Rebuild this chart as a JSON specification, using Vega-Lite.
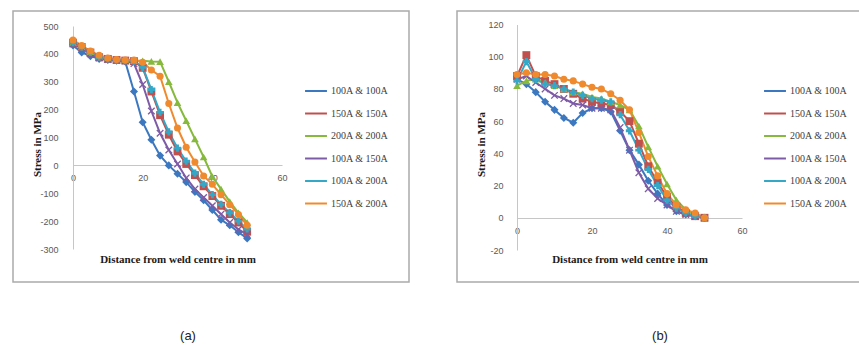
{
  "$schema": "https://vega.github.io/schema/vega-lite/v6.json",
  "padding": {"left": 12, "top": 10, "right": 0, "bottom": 0},
  "background": "white",
  "spacing": 46,
  "config": {
    "view": {"stroke": "#ababab", "strokeWidth": 1.5},
    "font": "Liberation Serif",
    "axis": {"grid": false, "ticks": false, "domainColor": "#c6c6c6", "domainWidth": 1, "labelColor": "#595959", "labelFontSize": 9, "labelFont": "Liberation Sans", "titleFont": "Liberation Serif", "titleFontSize": 11, "titleFontWeight": "bold", "titleColor": "#1a1a1a", "labelFlush": false, "labelExpr": "replace(datum.label, '−', '-')"},
    "legend": {"orient": "none", "title": null, "symbolType": "stroke", "symbolSize": 480, "symbolStrokeWidth": 2, "labelFont": "Liberation Serif", "labelFontSize": 10, "labelColor": "#404040", "rowPadding": 5.5, "padding": 0, "labelOffset": 3}
  },
  "data": {"values": [
    {"p":"a","s":"100A & 100A","x":0,"y":430},{"p":"a","s":"100A & 100A","x":2.5,"y":405},{"p":"a","s":"100A & 100A","x":5,"y":392},{"p":"a","s":"100A & 100A","x":7.5,"y":382},{"p":"a","s":"100A & 100A","x":10,"y":378},{"p":"a","s":"100A & 100A","x":12.5,"y":375},{"p":"a","s":"100A & 100A","x":15,"y":372},{"p":"a","s":"100A & 100A","x":17.5,"y":265},{"p":"a","s":"100A & 100A","x":20,"y":155},{"p":"a","s":"100A & 100A","x":22.5,"y":92},{"p":"a","s":"100A & 100A","x":25,"y":35},{"p":"a","s":"100A & 100A","x":27.5,"y":0},{"p":"a","s":"100A & 100A","x":30,"y":-30},{"p":"a","s":"100A & 100A","x":32.5,"y":-60},{"p":"a","s":"100A & 100A","x":35,"y":-95},{"p":"a","s":"100A & 100A","x":37.5,"y":-125},{"p":"a","s":"100A & 100A","x":40,"y":-160},{"p":"a","s":"100A & 100A","x":42.5,"y":-195},{"p":"a","s":"100A & 100A","x":45,"y":-215},{"p":"a","s":"100A & 100A","x":47.5,"y":-240},{"p":"a","s":"100A & 100A","x":50,"y":-262},
    {"p":"a","s":"150A & 150A","x":0,"y":440},{"p":"a","s":"150A & 150A","x":2.5,"y":425},{"p":"a","s":"150A & 150A","x":5,"y":405},{"p":"a","s":"150A & 150A","x":7.5,"y":388},{"p":"a","s":"150A & 150A","x":10,"y":382},{"p":"a","s":"150A & 150A","x":12.5,"y":378},{"p":"a","s":"150A & 150A","x":15,"y":376},{"p":"a","s":"150A & 150A","x":17.5,"y":374},{"p":"a","s":"150A & 150A","x":20,"y":350},{"p":"a","s":"150A & 150A","x":22.5,"y":265},{"p":"a","s":"150A & 150A","x":25,"y":180},{"p":"a","s":"150A & 150A","x":27.5,"y":110},{"p":"a","s":"150A & 150A","x":30,"y":50},{"p":"a","s":"150A & 150A","x":32.5,"y":5},{"p":"a","s":"150A & 150A","x":35,"y":-35},{"p":"a","s":"150A & 150A","x":37.5,"y":-75},{"p":"a","s":"150A & 150A","x":40,"y":-110},{"p":"a","s":"150A & 150A","x":42.5,"y":-145},{"p":"a","s":"150A & 150A","x":45,"y":-175},{"p":"a","s":"150A & 150A","x":47.5,"y":-205},{"p":"a","s":"150A & 150A","x":50,"y":-238},
    {"p":"a","s":"200A & 200A","x":0,"y":440},{"p":"a","s":"200A & 200A","x":2.5,"y":425},{"p":"a","s":"200A & 200A","x":5,"y":408},{"p":"a","s":"200A & 200A","x":7.5,"y":392},{"p":"a","s":"200A & 200A","x":10,"y":385},{"p":"a","s":"200A & 200A","x":12.5,"y":380},{"p":"a","s":"200A & 200A","x":15,"y":378},{"p":"a","s":"200A & 200A","x":17.5,"y":376},{"p":"a","s":"200A & 200A","x":20,"y":375},{"p":"a","s":"200A & 200A","x":22.5,"y":373},{"p":"a","s":"200A & 200A","x":25,"y":372},{"p":"a","s":"200A & 200A","x":27.5,"y":300},{"p":"a","s":"200A & 200A","x":30,"y":225},{"p":"a","s":"200A & 200A","x":32.5,"y":160},{"p":"a","s":"200A & 200A","x":35,"y":95},{"p":"a","s":"200A & 200A","x":37.5,"y":30},{"p":"a","s":"200A & 200A","x":40,"y":-40},{"p":"a","s":"200A & 200A","x":42.5,"y":-85},{"p":"a","s":"200A & 200A","x":45,"y":-130},{"p":"a","s":"200A & 200A","x":47.5,"y":-170},{"p":"a","s":"200A & 200A","x":50,"y":-205},
    {"p":"a","s":"100A & 150A","x":0,"y":435},{"p":"a","s":"100A & 150A","x":2.5,"y":420},{"p":"a","s":"100A & 150A","x":5,"y":400},{"p":"a","s":"100A & 150A","x":7.5,"y":385},{"p":"a","s":"100A & 150A","x":10,"y":380},{"p":"a","s":"100A & 150A","x":12.5,"y":377},{"p":"a","s":"100A & 150A","x":15,"y":375},{"p":"a","s":"100A & 150A","x":17.5,"y":365},{"p":"a","s":"100A & 150A","x":20,"y":290},{"p":"a","s":"100A & 150A","x":22.5,"y":195},{"p":"a","s":"100A & 150A","x":25,"y":115},{"p":"a","s":"100A & 150A","x":27.5,"y":55},{"p":"a","s":"100A & 150A","x":30,"y":5},{"p":"a","s":"100A & 150A","x":32.5,"y":-45},{"p":"a","s":"100A & 150A","x":35,"y":-85},{"p":"a","s":"100A & 150A","x":37.5,"y":-115},{"p":"a","s":"100A & 150A","x":40,"y":-145},{"p":"a","s":"100A & 150A","x":42.5,"y":-175},{"p":"a","s":"100A & 150A","x":45,"y":-205},{"p":"a","s":"100A & 150A","x":47.5,"y":-230},{"p":"a","s":"100A & 150A","x":50,"y":-248},
    {"p":"a","s":"100A & 200A","x":0,"y":440},{"p":"a","s":"100A & 200A","x":2.5,"y":425},{"p":"a","s":"100A & 200A","x":5,"y":405},{"p":"a","s":"100A & 200A","x":7.5,"y":388},{"p":"a","s":"100A & 200A","x":10,"y":382},{"p":"a","s":"100A & 200A","x":12.5,"y":378},{"p":"a","s":"100A & 200A","x":15,"y":376},{"p":"a","s":"100A & 200A","x":17.5,"y":374},{"p":"a","s":"100A & 200A","x":20,"y":352},{"p":"a","s":"100A & 200A","x":22.5,"y":272},{"p":"a","s":"100A & 200A","x":25,"y":190},{"p":"a","s":"100A & 200A","x":27.5,"y":120},{"p":"a","s":"100A & 200A","x":30,"y":62},{"p":"a","s":"100A & 200A","x":32.5,"y":15},{"p":"a","s":"100A & 200A","x":35,"y":-28},{"p":"a","s":"100A & 200A","x":37.5,"y":-68},{"p":"a","s":"100A & 200A","x":40,"y":-105},{"p":"a","s":"100A & 200A","x":42.5,"y":-140},{"p":"a","s":"100A & 200A","x":45,"y":-170},{"p":"a","s":"100A & 200A","x":47.5,"y":-200},{"p":"a","s":"100A & 200A","x":50,"y":-228},
    {"p":"a","s":"150A & 200A","x":0,"y":450},{"p":"a","s":"150A & 200A","x":2.5,"y":430},{"p":"a","s":"150A & 200A","x":5,"y":410},{"p":"a","s":"150A & 200A","x":7.5,"y":395},{"p":"a","s":"150A & 200A","x":10,"y":385},{"p":"a","s":"150A & 200A","x":12.5,"y":380},{"p":"a","s":"150A & 200A","x":15,"y":378},{"p":"a","s":"150A & 200A","x":17.5,"y":378},{"p":"a","s":"150A & 200A","x":20,"y":370},{"p":"a","s":"150A & 200A","x":22.5,"y":342},{"p":"a","s":"150A & 200A","x":25,"y":320},{"p":"a","s":"150A & 200A","x":27.5,"y":222},{"p":"a","s":"150A & 200A","x":30,"y":134},{"p":"a","s":"150A & 200A","x":32.5,"y":65},{"p":"a","s":"150A & 200A","x":35,"y":12},{"p":"a","s":"150A & 200A","x":37.5,"y":-38},{"p":"a","s":"150A & 200A","x":40,"y":-68},{"p":"a","s":"150A & 200A","x":42.5,"y":-105},{"p":"a","s":"150A & 200A","x":45,"y":-141},{"p":"a","s":"150A & 200A","x":47.5,"y":-176},{"p":"a","s":"150A & 200A","x":50,"y":-215},
    {"p":"b","s":"100A & 100A","x":0,"y":86},{"p":"b","s":"100A & 100A","x":2.5,"y":83},{"p":"b","s":"100A & 100A","x":5,"y":78},{"p":"b","s":"100A & 100A","x":7.5,"y":72},{"p":"b","s":"100A & 100A","x":10,"y":67},{"p":"b","s":"100A & 100A","x":12.5,"y":62},{"p":"b","s":"100A & 100A","x":15,"y":59},{"p":"b","s":"100A & 100A","x":17.5,"y":65},{"p":"b","s":"100A & 100A","x":20,"y":68},{"p":"b","s":"100A & 100A","x":22.5,"y":68},{"p":"b","s":"100A & 100A","x":25,"y":66},{"p":"b","s":"100A & 100A","x":27.5,"y":54},{"p":"b","s":"100A & 100A","x":30,"y":42},{"p":"b","s":"100A & 100A","x":32.5,"y":33},{"p":"b","s":"100A & 100A","x":35,"y":23},{"p":"b","s":"100A & 100A","x":37.5,"y":15},{"p":"b","s":"100A & 100A","x":40,"y":8},{"p":"b","s":"100A & 100A","x":42.5,"y":4},{"p":"b","s":"100A & 100A","x":45,"y":2},{"p":"b","s":"100A & 100A","x":47.5,"y":1},{"p":"b","s":"100A & 100A","x":50,"y":0},
    {"p":"b","s":"150A & 150A","x":0,"y":88},{"p":"b","s":"150A & 150A","x":2.5,"y":101},{"p":"b","s":"150A & 150A","x":5,"y":88},{"p":"b","s":"150A & 150A","x":7.5,"y":85},{"p":"b","s":"150A & 150A","x":10,"y":83},{"p":"b","s":"150A & 150A","x":12.5,"y":80},{"p":"b","s":"150A & 150A","x":15,"y":77},{"p":"b","s":"150A & 150A","x":17.5,"y":74},{"p":"b","s":"150A & 150A","x":20,"y":72},{"p":"b","s":"150A & 150A","x":22.5,"y":71},{"p":"b","s":"150A & 150A","x":25,"y":70},{"p":"b","s":"150A & 150A","x":27.5,"y":66},{"p":"b","s":"150A & 150A","x":30,"y":60},{"p":"b","s":"150A & 150A","x":32.5,"y":46},{"p":"b","s":"150A & 150A","x":35,"y":32},{"p":"b","s":"150A & 150A","x":37.5,"y":22},{"p":"b","s":"150A & 150A","x":40,"y":13},{"p":"b","s":"150A & 150A","x":42.5,"y":7},{"p":"b","s":"150A & 150A","x":45,"y":3},{"p":"b","s":"150A & 150A","x":47.5,"y":1},{"p":"b","s":"150A & 150A","x":50,"y":0},
    {"p":"b","s":"200A & 200A","x":0,"y":82},{"p":"b","s":"200A & 200A","x":2.5,"y":85},{"p":"b","s":"200A & 200A","x":5,"y":86},{"p":"b","s":"200A & 200A","x":7.5,"y":84},{"p":"b","s":"200A & 200A","x":10,"y":82},{"p":"b","s":"200A & 200A","x":12.5,"y":80},{"p":"b","s":"200A & 200A","x":15,"y":78},{"p":"b","s":"200A & 200A","x":17.5,"y":77},{"p":"b","s":"200A & 200A","x":20,"y":75},{"p":"b","s":"200A & 200A","x":22.5,"y":74},{"p":"b","s":"200A & 200A","x":25,"y":72},{"p":"b","s":"200A & 200A","x":27.5,"y":70},{"p":"b","s":"200A & 200A","x":30,"y":67},{"p":"b","s":"200A & 200A","x":32.5,"y":57},{"p":"b","s":"200A & 200A","x":35,"y":44},{"p":"b","s":"200A & 200A","x":37.5,"y":32},{"p":"b","s":"200A & 200A","x":40,"y":21},{"p":"b","s":"200A & 200A","x":42.5,"y":11},{"p":"b","s":"200A & 200A","x":45,"y":5},{"p":"b","s":"200A & 200A","x":47.5,"y":2},{"p":"b","s":"200A & 200A","x":50,"y":0},
    {"p":"b","s":"100A & 150A","x":0,"y":86},{"p":"b","s":"100A & 150A","x":2.5,"y":88},{"p":"b","s":"100A & 150A","x":5,"y":84},{"p":"b","s":"100A & 150A","x":7.5,"y":80},{"p":"b","s":"100A & 150A","x":10,"y":76},{"p":"b","s":"100A & 150A","x":12.5,"y":74},{"p":"b","s":"100A & 150A","x":15,"y":71},{"p":"b","s":"100A & 150A","x":17.5,"y":70},{"p":"b","s":"100A & 150A","x":20,"y":68},{"p":"b","s":"100A & 150A","x":22.5,"y":68},{"p":"b","s":"100A & 150A","x":25,"y":67},{"p":"b","s":"100A & 150A","x":27.5,"y":56},{"p":"b","s":"100A & 150A","x":30,"y":42},{"p":"b","s":"100A & 150A","x":32.5,"y":28},{"p":"b","s":"100A & 150A","x":35,"y":18},{"p":"b","s":"100A & 150A","x":37.5,"y":12},{"p":"b","s":"100A & 150A","x":40,"y":8},{"p":"b","s":"100A & 150A","x":42.5,"y":4},{"p":"b","s":"100A & 150A","x":45,"y":2},{"p":"b","s":"100A & 150A","x":47.5,"y":1},{"p":"b","s":"100A & 150A","x":50,"y":0},
    {"p":"b","s":"100A & 200A","x":0,"y":85},{"p":"b","s":"100A & 200A","x":2.5,"y":97},{"p":"b","s":"100A & 200A","x":5,"y":86},{"p":"b","s":"100A & 200A","x":7.5,"y":83},{"p":"b","s":"100A & 200A","x":10,"y":82},{"p":"b","s":"100A & 200A","x":12.5,"y":80},{"p":"b","s":"100A & 200A","x":15,"y":78},{"p":"b","s":"100A & 200A","x":17.5,"y":76},{"p":"b","s":"100A & 200A","x":20,"y":74},{"p":"b","s":"100A & 200A","x":22.5,"y":73},{"p":"b","s":"100A & 200A","x":25,"y":72},{"p":"b","s":"100A & 200A","x":27.5,"y":64},{"p":"b","s":"100A & 200A","x":30,"y":54},{"p":"b","s":"100A & 200A","x":32.5,"y":42},{"p":"b","s":"100A & 200A","x":35,"y":30},{"p":"b","s":"100A & 200A","x":37.5,"y":20},{"p":"b","s":"100A & 200A","x":40,"y":11},{"p":"b","s":"100A & 200A","x":42.5,"y":6},{"p":"b","s":"100A & 200A","x":45,"y":3},{"p":"b","s":"100A & 200A","x":47.5,"y":1},{"p":"b","s":"100A & 200A","x":50,"y":0},
    {"p":"b","s":"150A & 200A","x":0,"y":89},{"p":"b","s":"150A & 200A","x":2.5,"y":90},{"p":"b","s":"150A & 200A","x":5,"y":89},{"p":"b","s":"150A & 200A","x":7.5,"y":89},{"p":"b","s":"150A & 200A","x":10,"y":88},{"p":"b","s":"150A & 200A","x":12.5,"y":86},{"p":"b","s":"150A & 200A","x":15,"y":85},{"p":"b","s":"150A & 200A","x":17.5,"y":83},{"p":"b","s":"150A & 200A","x":20,"y":81},{"p":"b","s":"150A & 200A","x":22.5,"y":80},{"p":"b","s":"150A & 200A","x":25,"y":77},{"p":"b","s":"150A & 200A","x":27.5,"y":73},{"p":"b","s":"150A & 200A","x":30,"y":67},{"p":"b","s":"150A & 200A","x":32.5,"y":53},{"p":"b","s":"150A & 200A","x":35,"y":38},{"p":"b","s":"150A & 200A","x":37.5,"y":26},{"p":"b","s":"150A & 200A","x":40,"y":15},{"p":"b","s":"150A & 200A","x":42.5,"y":8},{"p":"b","s":"150A & 200A","x":45,"y":5},{"p":"b","s":"150A & 200A","x":47.5,"y":3},{"p":"b","s":"150A & 200A","x":50,"y":0}
  ]},
  "resolve": {"legend": {"color": "independent"}},
  "hconcat": [
    {
      "width": 396, "height": 271,
      "title": {"text": "(a)", "orient": "bottom", "offset": 48, "dx": -23, "font": "Liberation Sans", "fontSize": 13, "fontWeight": "normal", "color": "#222222", "baseline": "top"},
      "transform": [{"filter": "datum.p == 'a'"}],
      "encoding": {
        "x": {"field": "x", "type": "quantitative", "scale": {"domain": [0, 60], "range": [60, 269], "nice": false, "zero": false},
              "axis": {"orient": "bottom", "offset": -117, "values": [0, 20, 40, 60], "labelPadding": 8, "title": "Distance from weld centre in mm", "titleY": 94, "titleBaseline": "middle"}},
        "y": {"field": "y", "type": "quantitative", "scale": {"domain": [-300, 500], "range": [238, 15], "nice": false, "zero": false},
              "axis": {"offset": -60, "values": [-300, -200, -100, 0, 100, 200, 300, 400, 500], "labelPadding": 15, "title": "Stress in MPa", "titleX": -36, "titleY": 133, "titleAngle": -90, "titleBaseline": "middle", "titleAlign": "center"}},
        "color": {"field": "s", "type": "nominal",
                  "scale": {"domain": ["100A & 100A", "150A & 150A", "200A & 200A", "100A & 150A", "100A & 200A", "150A & 200A"], "range": ["#3C78C0", "#C0504D", "#86B93C", "#7E5BA6", "#35A8C8", "#F08A2E"]},
                  "legend": {"legendX": 291, "legendY": 68}}
      },
      "layer": [
        {"mark": {"type": "line", "strokeWidth": 2}},
        {"mark": {"type": "point", "filled": true, "opacity": 1},
         "encoding": {
           "shape": {"field": "s", "type": "nominal", "legend": null,
                     "scale": {"domain": ["100A & 100A", "150A & 150A", "200A & 200A", "100A & 150A", "100A & 200A", "150A & 200A"], "range": ["diamond", "square", "triangle-up", "M-1,-0.75L-0.75,-1L0,-0.25L0.75,-1L1,-0.75L0.25,0L1,0.75L0.75,1L0,0.25L-0.75,1L-1,0.75L-0.25,0Z", "cross", "circle"]}},
           "size": {"field": "s", "type": "ordinal", "legend": null,
                    "scale": {"domain": ["100A & 100A", "150A & 150A", "200A & 200A", "100A & 150A", "100A & 200A", "150A & 200A"], "range": [65, 50, 60, 40, 28, 95]}}
         }}
      ]
    },
    {
      "width": 410, "height": 271,
      "title": {"text": "(b)", "orient": "bottom", "offset": 48, "dx": -2, "font": "Liberation Sans", "fontSize": 13, "fontWeight": "normal", "color": "#222222", "baseline": "top"},
      "transform": [{"filter": "datum.p == 'b'"}],
      "encoding": {
        "x": {"field": "x", "type": "quantitative", "scale": {"domain": [0, 60], "range": [60, 285], "nice": false, "zero": false},
              "axis": {"orient": "bottom", "offset": -64, "values": [0, 20, 40, 60], "labelPadding": 8, "title": "Distance from weld centre in mm", "titleY": 41, "titleBaseline": "middle"}},
        "y": {"field": "y", "type": "quantitative", "scale": {"domain": [-20, 120], "range": [239, 13.5], "nice": false, "zero": false},
              "axis": {"offset": -60, "values": [-20, 0, 20, 40, 60, 80, 100, 120], "labelPadding": 14, "title": "Stress in MPa", "titleX": -36, "titleY": 133, "titleAngle": -90, "titleBaseline": "middle", "titleAlign": "center"}},
        "color": {"field": "s", "type": "nominal",
                  "scale": {"domain": ["100A & 100A", "150A & 150A", "200A & 200A", "100A & 150A", "100A & 200A", "150A & 200A"], "range": ["#3C78C0", "#C0504D", "#86B93C", "#7E5BA6", "#35A8C8", "#F08A2E"]},
                  "legend": {"legendX": 306, "legendY": 68}}
      },
      "layer": [
        {"mark": {"type": "line", "strokeWidth": 2}},
        {"mark": {"type": "point", "filled": true, "opacity": 1},
         "encoding": {
           "shape": {"field": "s", "type": "nominal", "legend": null,
                     "scale": {"domain": ["100A & 100A", "150A & 150A", "200A & 200A", "100A & 150A", "100A & 200A", "150A & 200A"], "range": ["diamond", "square", "triangle-up", "M-1,-0.75L-0.75,-1L0,-0.25L0.75,-1L1,-0.75L0.25,0L1,0.75L0.75,1L0,0.25L-0.75,1L-1,0.75L-0.25,0Z", "cross", "circle"]}},
           "size": {"field": "s", "type": "ordinal", "legend": null,
                    "scale": {"domain": ["100A & 100A", "150A & 150A", "200A & 200A", "100A & 150A", "100A & 200A", "150A & 200A"], "range": [65, 50, 60, 40, 28, 95]}}
         }}
      ]
    }
  ]
}
